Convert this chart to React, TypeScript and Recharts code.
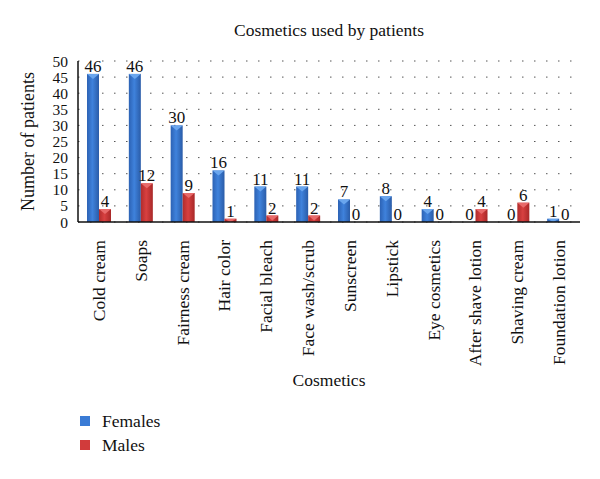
import React from 'react'
import { BarChart, Bar, XAxis, YAxis, CartesianGrid, LabelList } from 'recharts'

const categories = ['Cold cream', 'Soaps', 'Fairness cream', 'Hair color', 'Facial bleach', 'Face wash/scrub', 'Sunscreen', 'Lipstick', 'Eye cosmetics', 'After shave lotion', 'Shaving cream', 'Foundation lotion']
const females = [46, 46, 30, 16, 11, 11, 7, 8, 4, 0, 0, 1]
const males = [4, 12, 9, 1, 2, 2, 0, 0, 0, 4, 6, 0]
const yTicks = [0, 5, 10, 15, 20, 25, 30, 35, 40, 45, 50]

const data = categories.map((name, i) => ({ name, Females: females[i], Males: males[i] }))

const FONT = '"Liberation Serif", "DejaVu Serif", serif'

const makeShape = (grad: string, top: string) => (props: any) => {
    const { x, y, width, height } = props
    if (!height || height <= 0) return <g />
    const t = Math.min(5, height)
    return (
        <g>
            <rect x={x} y={y} width={width} height={height} fill={`url(#${grad})`} />
            <polygon points={`${x},${y} ${x + width},${y} ${x + width / 2},${y + t}`} fill={top} />
        </g>
    )
}

const XTick = (props: any) => {
    const { x, y, payload } = props
    return (
        <text x={x} y={y + 10} transform={`rotate(-90, ${x}, ${y + 10})`} textAnchor='end'
            dominantBaseline='central' fontFamily={FONT} fontSize={17.5} fill='#111'>
            {payload.value}
        </text>
    )
}

const legendItems = [['Females', '#3a7bd5'], ['Males', '#d13b3b']]

const App = () => {
    return (
        <div style={{ position: 'absolute', left: 0, top: 0, width: 600, height: 479, background: '#fff' }}>
            <div style={{ position: 'absolute', left: 78, width: 502, top: 20, textAlign: 'center', fontFamily: FONT, fontSize: 17.5, color: '#111' }}>
                Cosmetics used by patients
            </div>
            <BarChart width={600} height={479} data={data} margin={{ top: 61, right: 20, left: 0, bottom: 0 }}
                barGap={0} barCategoryGap={0}>
                <defs>
                    <linearGradient id='gBlue' x1='0' y1='0' x2='1' y2='0'>
                        <stop offset='0%' stopColor='#2c62b4' />
                        <stop offset='45%' stopColor='#3f82dc' />
                        <stop offset='100%' stopColor='#2a5ca8' />
                    </linearGradient>
                    <linearGradient id='gRed' x1='0' y1='0' x2='1' y2='0'>
                        <stop offset='0%' stopColor='#b02c2c' />
                        <stop offset='45%' stopColor='#d84040' />
                        <stop offset='100%' stopColor='#a82828' />
                    </linearGradient>
                </defs>
                <CartesianGrid vertical={false} stroke='#555' strokeDasharray='1.5 10.5' />
                <XAxis dataKey='name' interval={0} tick={<XTick />} tickLine={false} height={257}
                    axisLine={{ stroke: '#111', strokeWidth: 1.5 }}
                    label={{ value: 'Cosmetics', position: 'insideTop', offset: 152, fontFamily: FONT, fontSize: 17.5, fill: '#111' }} />
                <YAxis width={78} domain={[0, 50]} ticks={yTicks} interval={0} tickLine={false}
                    axisLine={{ stroke: '#111', strokeWidth: 1.5 }} tickMargin={4}
                    tick={{ fontFamily: FONT, fontSize: 15.5, fill: '#111' }}
                    label={(p: any) => {
                        const vb = p.viewBox
                        const cx = 28
                        const cy = vb.y + vb.height / 2
                        return (
                            <text x={cx} y={cy} transform={`rotate(-90, ${cx}, ${cy})`} textAnchor='middle'
                                dominantBaseline='central' fontFamily={FONT} fontSize={18} fill='#111'>
                                Number of patients
                            </text>
                        )
                    }} />
                <Bar dataKey='Females' barSize={12} fill='#3a7bd5' shape={makeShape('gBlue', '#6aa6ee')} isAnimationActive={false}>
                    <LabelList dataKey='Females' position='top' offset={2} style={{ fontFamily: FONT, fontSize: 17, fill: '#111' }} />
                </Bar>
                <Bar dataKey='Males' barSize={12} fill='#d13b3b' shape={makeShape('gRed', '#e86a6a')} isAnimationActive={false}>
                    <LabelList dataKey='Males' position='top' offset={2} style={{ fontFamily: FONT, fontSize: 17, fill: '#111' }} />
                </Bar>
            </BarChart>
            <div style={{ position: 'absolute', left: 80, top: 409, fontFamily: FONT, fontSize: 17.5, color: '#111' }}>
                {legendItems.map(([n, c]) => (
                    <div key={n} style={{ display: 'flex', alignItems: 'center', height: 24 }}>
                        <span style={{ display: 'inline-block', width: 10, height: 10, background: c, marginRight: 12 }} />
                        {n}
                    </div>
                ))}
            </div>
        </div>
    )
}

export default App
